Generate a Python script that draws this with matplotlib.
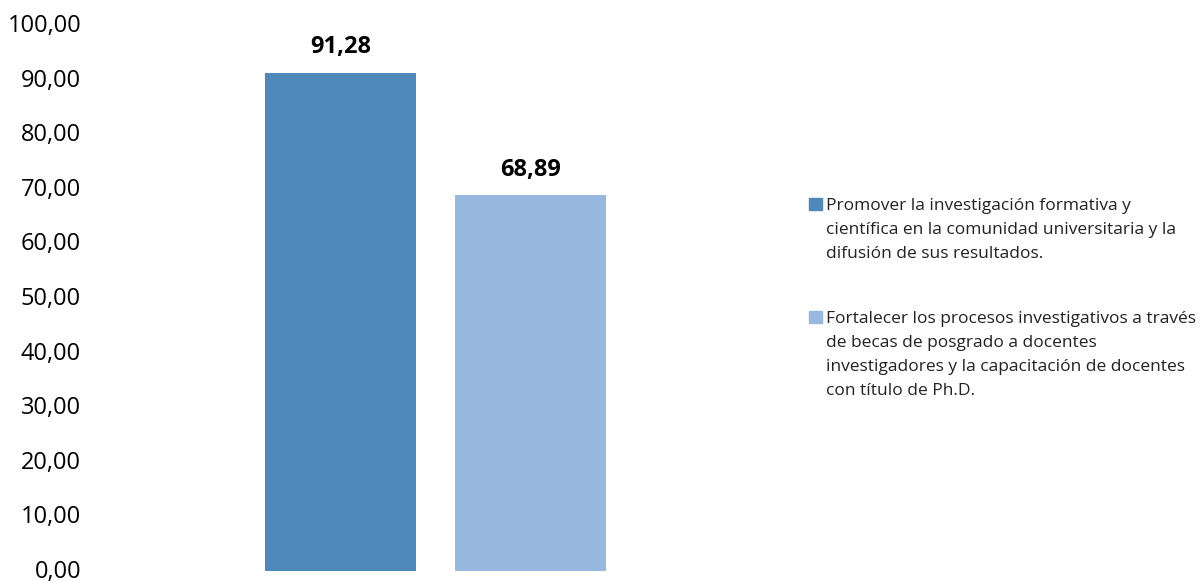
import matplotlib
matplotlib.use("Agg")
import matplotlib.pyplot as plt
from matplotlib.patches import Rectangle
from matplotlib.ticker import FuncFormatter
from matplotlib.transforms import ScaledTranslation

# Series: one bar per objective
labels = [
    "Promover la investigación formativa y\ncientífica en la comunidad universitaria y la\ndifusión de sus resultados.",
    "Fortalecer los procesos investigativos a través\nde becas de posgrado a docentes\ninvestigadores y la capacitación de docentes\ncon título de Ph.D.",
]
values = [91.28, 68.89]
colors = ["#4F89BC", "#97B9E0"]
yticks = [0, 10, 20, 30, 40, 50, 60, 70, 80, 90, 100]

plt.rcParams["font.family"] = ["Open Sans", "DejaVu Sans"]

W, H = 1201, 581
fig = plt.figure(figsize=(W / 100, H / 100), dpi=100)
ax = fig.add_axes([95 / W, (H - 571) / H, 681 / W, 546 / H])

offsets = [-0.279, 0.279]
bar_w = 0.4435
bars = ax.bar(offsets, values, width=bar_w, color=colors)
ax.set_xlim(-1, 1)
ax.set_ylim(0, 100)
ax.set_yticks(yticks)
ax.yaxis.set_major_formatter(FuncFormatter(lambda v, p: f"{v:.2f}".replace(".", ",")))
ax.tick_params(axis="y", length=0, pad=10, labelsize=17, colors="#000000")
ax.set_xticks([])
for s in ax.spines.values():
    s.set_visible(False)

# nudge tick labels up slightly so the bottom one stays inside the canvas
lift = ScaledTranslation(0, 2 / 100, fig.dpi_scale_trans)
for lab in ax.get_yticklabels():
    lab.set_transform(lab.get_transform() + lift)

for b, v in zip(bars, values):
    ax.annotate(f"{v:.2f}".replace(".", ","), (b.get_x() + b.get_width() / 2, v),
                xytext=(0, 9.5), textcoords="offset points", ha="center", va="bottom",
                fontsize=17, fontweight="bold")

# Legend drawn beside the plot
leg_x = 809 / W
tops = [198, 311]
for top, c, lab in zip(tops, colors, labels):
    fig.patches.append(Rectangle((leg_x, (H - top - 12) / H), 13 / W, 12 / H,
                                 transform=fig.transFigure, color=c))
    fig.text(826 / W, (H - top) / H, lab, ha="left", va="top",
             fontsize=12.5, linespacing=1.67, color="#222222")

fig.savefig("out.png", dpi=100)
